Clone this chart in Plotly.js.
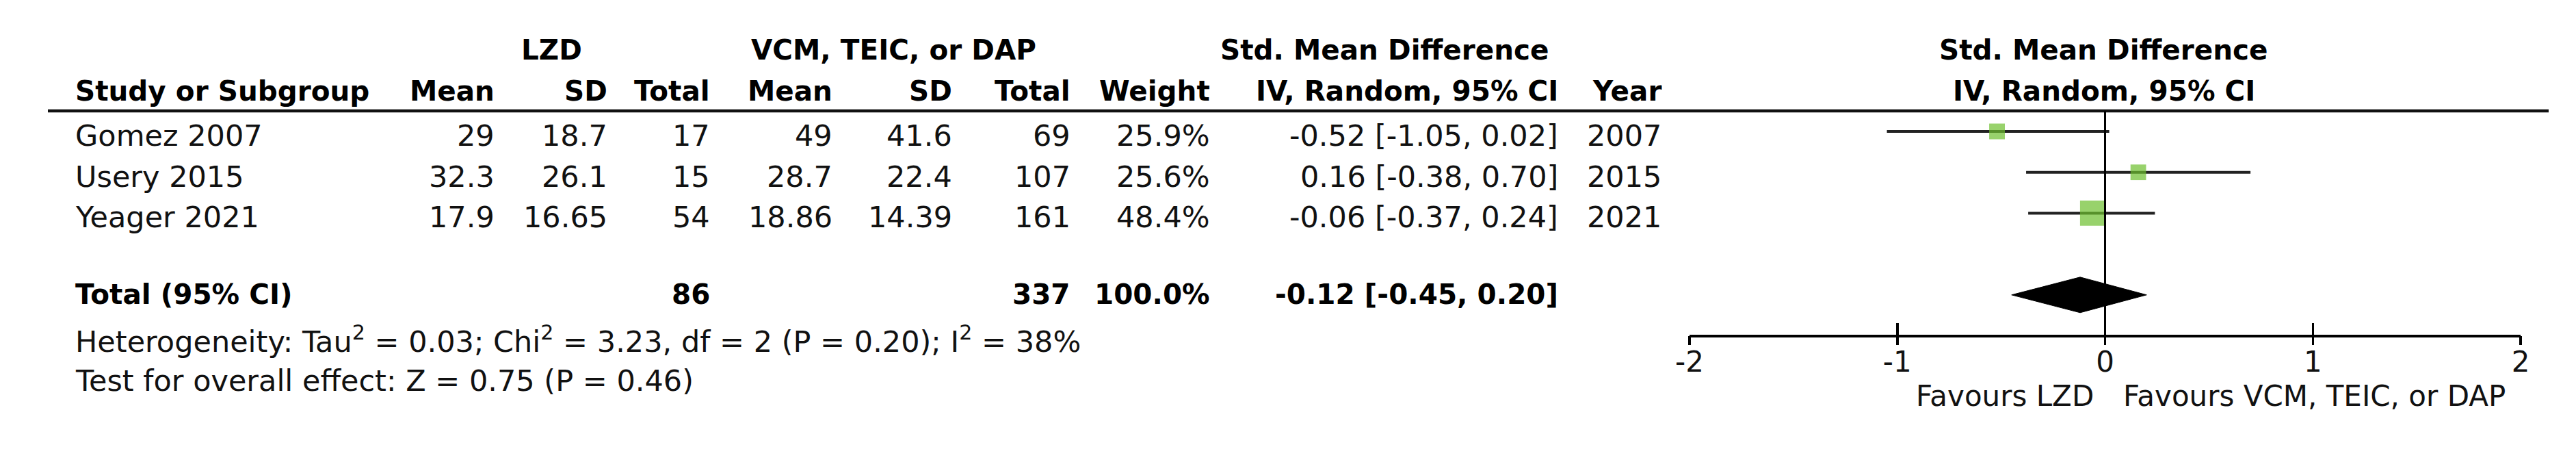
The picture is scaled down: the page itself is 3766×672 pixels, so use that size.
<!DOCTYPE html>
<html>
<head>
<meta charset="utf-8">
<script src="https://cdn.plot.ly/plotly-3.0.1.min.js"></script>
<style>html,body{margin:0;padding:0;background:#fff;}#chart{width:3766px;height:672px;}</style>
</head>
<body>
<div id="chart"></div>
<script>
// ---------- data ----------
const studies   = ['Gomez 2007', 'Usery 2015', 'Yeager 2021'];
const lzdMean   = [29, 32.3, 17.9];
const lzdSD     = [18.7, 26.1, 16.65];
const lzdN      = [17, 15, 54];
const ctlMean   = [49, 28.7, 18.86];
const ctlSD     = [41.6, 22.4, 14.39];
const ctlN      = [69, 107, 161];
const weights   = [25.9, 25.6, 48.4];
const smd       = [-0.52, 0.16, -0.06];
const ciLow     = [-1.05, -0.38, -0.37];
const ciHigh    = [0.02, 0.70, 0.24];
const years     = [2007, 2015, 2021];
const totalLzdN = 86;
const totalCtlN = 337;
const totalWeight = 100.0;
const totalSmd  = -0.12;
const totalLow  = -0.45;
const totalHigh = 0.20;
const groupLabels = ['LZD', 'VCM, TEIC, or DAP'];
const effectLabel = ['Std. Mean Difference', 'IV, Random, 95% CI'];
const colLabels = ['Study or Subgroup', 'Mean', 'SD', 'Total', 'Mean', 'SD', 'Total', 'Weight', 'IV, Random, 95% CI', 'Year'];
const heterogeneityText = 'Heterogeneity: Tau<sup>2</sup> = 0.03; Chi<sup>2</sup> = 3.23, df = 2 (P = 0.20); I<sup>2</sup> = 38%';
const overallText = 'Test for overall effect: Z = 0.75 (P = 0.46)';
const favourLabels = ['Favours LZD', 'Favours VCM, TEIC, or DAP'];
const tickValues = [-2, -1, 0, 1, 2];
const tickLabels = ['-2', '-1', '0', '1', '2'];

// ---------- layout helpers ----------
const W = 3766, H = 672;
const FONT = 'DejaVu Sans, Verdana, sans-serif';
const FS = 43;        // regular text
const FSB = 40.5;     // bold text
const px = v => v / W;
const rowTop = 192, rowStep = 59.7;          // pixel of row 0 and row spacing
const yRange = [(H - rowTop) / rowStep, -rowTop / rowStep];
const axisPix = 490;
const TEXT_DY = 0.1;
const TOTAL_ROW = 4;

const ann = [];
function addText(text, xPix, y, anchor, bold) {
  ann.push({
    text: bold ? '<b>' + text + '</b>' : text,
    xref: 'paper', x: px(xPix), xanchor: anchor,
    yref: 'y', y: y, yanchor: 'middle',
    showarrow: false,
    font: {family: FONT, size: bold ? FSB : FS, color: bold ? '#000' : '#111'}
  });
}
function addForestText(text, y, anchor, shift, bold, size) {
  ann.push({
    text: bold ? '<b>' + text + '</b>' : text,
    xref: 'x', x: 0, xanchor: anchor, xshift: shift,
    yref: 'y', y: y, yanchor: 'middle',
    showarrow: false,
    font: {family: FONT, size: size, color: bold ? '#000' : '#111'}
  });
}

// header row 1
addText(groupLabels[0], 806, -1.99, 'center', true);
addText(groupLabels[1], 1306, -1.99, 'center', true);
addText(effectLabel[0], 2024, -1.99, 'center', true);
addForestText(effectLabel[0], -1.99, 'center', -2, true, FSB);
// header row 2
const colRight = [108, 725, 890, 1040, 1219, 1394, 1567, 1771, 2280, 2431];
colLabels.forEach((c, i) => addText(c, colRight[i], -0.99, i === 0 ? 'left' : 'right', true));
addForestText(effectLabel[1], -0.99, 'center', -2, true, FSB);

// study rows
const fmt2 = v => v.toFixed(2);
studies.forEach((s, i) => {
  const y = i + TEXT_DY;
  const cells = [s, String(lzdMean[i]), String(lzdSD[i]), String(lzdN[i]), String(ctlMean[i]), String(ctlSD[i]), String(ctlN[i]),
    weights[i].toFixed(1) + '%', fmt2(smd[i]) + ' [' + fmt2(ciLow[i]) + ', ' + fmt2(ciHigh[i]) + ']', String(years[i])];
  cells.forEach((c, j) => addText(c, colRight[j], y, j === 0 ? 'left' : 'right', false));
});

// total row
addText('Total (95% CI)', colRight[0], TOTAL_ROW - 0.01, 'left', true);
addText(String(totalLzdN), colRight[3], TOTAL_ROW - 0.01, 'right', true);
addText(String(totalCtlN), colRight[6], TOTAL_ROW - 0.01, 'right', true);
addText(totalWeight.toFixed(1) + '%', colRight[7], TOTAL_ROW - 0.01, 'right', true);
addText(fmt2(totalSmd) + ' [' + fmt2(totalLow) + ', ' + fmt2(totalHigh) + ']', colRight[8], TOTAL_ROW - 0.01, 'right', true);

// footnotes
addText(heterogeneityText, colRight[0], 5.09, 'left', false);
addText(overallText, colRight[0], 6.10, 'left', false);

// favours labels
addForestText(favourLabels[0], 6.47, 'right', -15, false, 42);
addForestText(favourLabels[1], 6.47, 'left', 24, false, 42);

// ---------- traces ----------
const rowIdx = studies.map((s, i) => i);
const markerSize = weights.map(w => 2.0 * Math.pow(w, 0.75));
const studyTrace = {
  type: 'scatter', mode: 'markers', xaxis: 'x', yaxis: 'y',
  x: smd, y: rowIdx,
  error_x: {type: 'data', symmetric: false,
    array: smd.map((v, i) => ciHigh[i] - v),
    arrayminus: smd.map((v, i) => v - ciLow[i]),
    color: '#222', thickness: 4, width: 0},
  marker: {symbol: 'square', size: markerSize, color: '#6cbf2e', line: {width: 0}},
  hoverinfo: 'skip', cliponaxis: false
};
const dh = 0.435;
const diamondTrace = {
  type: 'scatter', mode: 'lines', xaxis: 'x2', yaxis: 'y',
  x: [totalLow, totalSmd, totalHigh, totalSmd, totalLow],
  y: [TOTAL_ROW, TOTAL_ROW - dh, TOTAL_ROW, TOTAL_ROW + dh, TOTAL_ROW],
  fill: 'toself', fillcolor: '#000', line: {color: '#000', width: 1},
  hoverinfo: 'skip', cliponaxis: false
};

const axisPos = (H - axisPix) / H;
const xDomain = [px(2470), px(3685)];
const layout = {
  width: W, height: H,
  margin: {l: 0, r: 0, t: 0, b: 0},
  paper_bgcolor: '#fff', plot_bgcolor: 'rgba(0,0,0,0)',
  showlegend: false,
  font: {family: FONT, size: FS, color: '#111'},
  xaxis: {
    domain: xDomain, range: [-2, 2], anchor: 'free', position: axisPos,
    showgrid: false, zeroline: false,
    showline: true, linecolor: '#000', linewidth: 3.5,
    ticks: 'inside', ticklen: 17, tickwidth: 3.5, tickcolor: '#000',
    tickmode: 'array', tickvals: tickValues, ticktext: tickLabels,
    tickfont: {family: FONT, size: 42, color: '#111'},
    fixedrange: true
  },
  xaxis2: {
    matches: 'x', overlaying: 'x', anchor: 'free', position: axisPos,
    showgrid: false, zeroline: false, showline: false,
    ticks: 'outside', ticklen: 13, tickwidth: 3.5, tickcolor: '#000',
    tickmode: 'array', tickvals: tickValues, showticklabels: false,
    fixedrange: true
  },
  yaxis: {
    domain: [0, 1], range: yRange, visible: false, showgrid: false, zeroline: false, fixedrange: true
  },
  shapes: [
    {type: 'line', xref: 'paper', x0: px(70), x1: px(3726), yref: 'y', y0: -0.5025, y1: -0.5025,
      line: {color: '#111', width: 4.5}},
    {type: 'line', xref: 'x', x0: 0, x1: 0, yref: 'y', y0: -0.5025, y1: (axisPix - rowTop) / rowStep,
      line: {color: '#000', width: 3}, layer: 'above'}
  ],
  annotations: ann
};

Plotly.newPlot('chart', [studyTrace, diamondTrace], layout, {staticPlot: true, displayModeBar: false});
</script>
</body>
</html>
